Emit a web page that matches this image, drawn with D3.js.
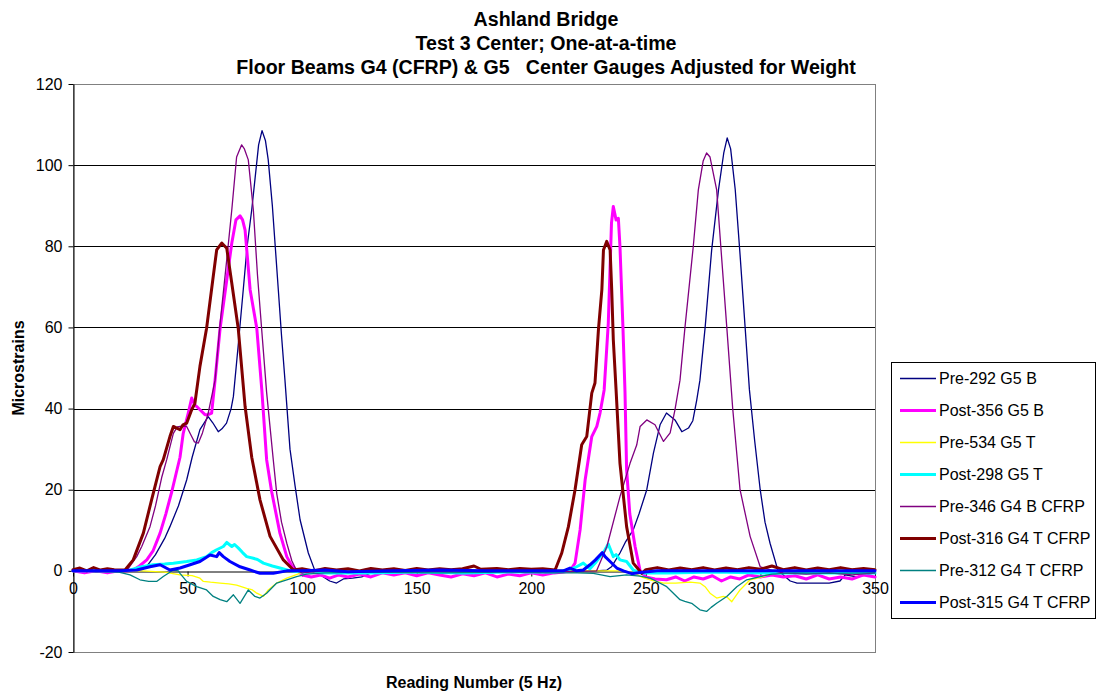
<!DOCTYPE html>
<html>
<head>
<meta charset="utf-8">
<script src="https://cdn.jsdelivr.net/npm/d3@7"></script>
<style>
  body { margin: 0; background: #fff; }
  svg text { font-family: Arial, "Liberation Sans", sans-serif; }
</style>
</head>
<body>
<div id="chart"></div>
<script>
// titles and labels
const titleLines = ["Ashland Bridge", "Test 3 Center; One-at-a-time",
    "Floor Beams G4 (CFRP) & G5   Center Gauges Adjusted for Weight"];
const xTicks = [0, 50, 100, 150, 200, 250, 300, 350];
const yTicks = [-20, 0, 20, 40, 60, 80, 100, 120];
const seriesNames = ["Pre-292 G5 B", "Post-356 G5 B", "Pre-534 G5 T", "Post-298 G5 T",
    "Pre-346 G4 B CFRP", "Post-316 G4 T CFRP", "Pre-312 G4 T CFRP", "Post-315 G4 T CFRP"];

// [reading, microstrain]
const pre292 = [[0,0],[5,0.3],[10,-0.2],[15,0],[20,0],[25,0],[30,0.3],[32,1],[36,4],[40,8],[42.3,10.9],[46,16],[49.6,22.4],[52,28],[55.4,34.8],[59,38],[61,36.5],[63.4,34.3],[65,35],[67,36.4],[69,40],[70,43],[72,55],[74.3,69.3],[76,80],[78,89],[79.5,97],[81,105],[82.5,108.5],[84,106],[85.2,101.3],[87,90],[89.6,69.3],[91,58],[92.5,47],[94.7,30],[96.9,21],[99.1,12.6],[102.7,4.4],[105.6,0],[108,-1],[112,-2.5],[115,-3],[118,-2],[122,-1.8],[126,-1.5],[130,-0.5],[135,0],[145,-0.3],[155,0],[165,-0.3],[175,0],[185,-0.2],[195,0],[205,-0.2],[215,0],[228,0],[233,0.2],[235,1],[238.7,4.4],[241,7],[244.5,10.1],[247,14],[250.4,20],[253.3,29],[256.2,36],[259,38.9],[262.7,37.2],[265.7,34.3],[268.6,35.2],[270.5,37],[272.2,42.1],[273.6,47],[275.9,60.2],[278.7,79],[281.7,93.9],[284,103],[285.5,106.7],[287,104],[289,94],[291.1,78],[293.3,60.2],[295.2,44.6],[297.5,32],[299.9,20],[302,12],[304.2,6.8],[307.7,0],[310,-1],[313,-2.5],[316,-3],[320,-3],[325,-3],[330,-3],[334.7,-2.5],[337,-1],[342,-1.5],[346,-1],[350,-0.5]];
const post356 = [[0,0],[5,-0.5],[10,0],[15,-0.5],[20,0],[24,0],[26.3,0.2],[29,1.2],[32.2,2.7],[35,5],[38,9.3],[40.5,14],[43.1,19.5],[45,24],[46.7,28],[48.1,33.9],[50.3,38.9],[51.8,42.6],[53,41],[54,40.5],[55.4,39.7],[57.6,38.5],[59,38.5],[60.5,38.9],[62,47],[64.2,59.8],[67.1,71.7],[69.3,80.8],[71.1,86.5],[72.9,87.5],[74,86.5],[75.1,84],[77.3,69.3],[80.2,59.8],[82.4,44.6],[84.5,27.4],[86.7,19.5],[90.3,9.3],[93.3,3.5],[95.5,1.2],[97.6,0.2],[100,-1],[104,-1.5],[108,-1],[112,-1.8],[116,-1],[120,-1.5],[125,-0.8],[130,-1.5],[135,-0.5],[140,-1],[145,-0.5],[150,-1.2],[155,-0.5],[160,-1],[165,-1.5],[170,-0.7],[175,-1.2],[180,-0.5],[185,-1.5],[190,-0.8],[195,-1.2],[200,-0.5],[205,-1],[210,-0.5],[214,-0.3],[216.9,0],[219.1,1.9],[221.3,10.1],[223.5,22.4],[226.4,33.1],[228.6,35.6],[230,38.9],[231.8,44.6],[233.6,61],[235,85.7],[235.8,89.8],[237,86.5],[238,86.9],[238.7,80],[240,60],[240.9,44],[241.6,25],[243,14],[245.3,6],[247.5,0],[250,-1.5],[254,-2],[259,-2.2],[263,-1.5],[267,-2.5],[271,-1.5],[275,-2],[279,-1.2],[283,-2.5],[287,-1.5],[291,-2],[295,-1],[300,-1.5],[305,-1],[310,-1.5],[315,-1.2],[320,-2],[325,-1],[330,-2],[335,-1.5],[340,-2],[345,-1],[350,-1.5]];
const pre534 = [[0,0],[20,0],[30,0],[40,-0.3],[46.7,-1],[52,-1.2],[55.4,-1.8],[56.9,-2.6],[60,-2.8],[64.2,-3],[68,-3.2],[71.4,-3.5],[75.8,-4.3],[78,-4.6],[80.2,-5.5],[83.1,-6.3],[85.2,-4.7],[88.9,-3],[93.3,-1.8],[99,-0.6],[103,0],[120,0],[150,0.2],[180,0],[210,0.2],[230,0],[240,0],[245,-0.5],[248,-1.5],[251.8,-2.2],[257.7,-3],[263,-3],[269.3,-2.8],[273.6,-3],[276,-4],[278,-5.5],[280.9,-6.7],[283.8,-6.3],[285.5,-6.5],[287.5,-7.6],[289.5,-6],[291.1,-4.7],[295.5,-2.2],[301.3,-1.4],[305,-0.5],[310,0],[330,0.2],[350,0.5]];
const post298 = [[0,0],[10,0],[20,0],[25,0.2],[30,1],[35,1.5],[40,1.7],[43.8,1.9],[49.6,2.3],[54,2.7],[58.3,3.5],[60.5,4.5],[62.7,5.2],[65.6,6],[67.1,7],[68.2,6.5],[69.3,6],[70.5,6.5],[72.2,5.6],[74,4.5],[75.8,3.5],[78.7,3.1],[80.5,2.8],[83.1,1.9],[87,1.2],[90.3,0.7],[95,0],[100,-0.3],[110,-0.5],[130,-0.5],[150,-0.3],[170,-0.5],[190,-0.3],[210,-0.3],[215,0],[219.8,1],[222.7,1.9],[225.6,0.5],[228,2],[230,3.5],[232,5],[233.6,6.6],[235.8,3.5],[237,4],[238.7,2.7],[241.6,2.3],[244.5,0.2],[248,-0.5],[260,-0.5],[280,-0.3],[300,-0.5],[320,-0.5],[350,-0.5]];
const pre346 = [[0,0],[10,0],[20,0],[23.4,0],[27.8,3.5],[30,6],[33.6,10.9],[36,16],[38.7,23],[40.9,27.4],[42.5,31],[43.8,33.9],[45.5,35.5],[47.4,35.7],[49.6,35.6],[51.8,33.1],[53,31.8],[54.7,31.5],[56.5,34],[59,38.9],[62,47],[64.2,61],[67.1,76.7],[69.3,89],[71.4,102],[73.6,105],[74.8,104],[76.5,101.3],[78.7,89],[80.5,73],[82.3,59.8],[84.5,44],[87.4,27.4],[88.9,19.1],[91,12],[93.3,6.8],[95.5,2.5],[97.6,0],[100,-0.5],[110,0],[130,-0.3],[150,0],[170,-0.3],[190,0],[210,-0.2],[228.5,0],[233,6],[238.7,18.3],[243.1,26.5],[246,31],[247.5,35.6],[250.4,37.2],[254,36],[257.7,31.9],[260.6,34],[262.7,39.7],[264.9,47],[267.1,60.2],[270.7,80],[272.9,93.9],[275,101],[276.5,103],[278,102],[280.9,93.9],[282.7,80],[285.3,60.2],[287.9,40],[291.1,20],[295.5,8.5],[299.9,1],[305.7,0],[310,-0.5],[320,-0.8],[330,-0.5],[340,-1],[350,-0.5]];
const post316 = [[0,0.3],[3,0.7],[6,0],[9,0.8],[12,0.2],[15,0.5],[18,0.3],[22.7,0.2],[26.3,2.7],[30.7,9.3],[34.3,17.5],[38,25.7],[39.4,27.4],[42.3,33.1],[43.8,35.6],[45.3,35.2],[46.7,34.8],[48,36],[49.6,36.4],[51.8,39.7],[53.2,41.3],[55.4,50.4],[58.3,59.8],[61,71.7],[62.7,79.1],[64.9,80.8],[67.1,79.5],[69.3,70.9],[72.1,59.8],[75.1,40.5],[78,28],[81.6,17.5],[86,8.5],[91.8,2.7],[96.2,0.2],[100,0.5],[105,0],[110,0.6],[115,0.2],[120,0.5],[125,0],[130,0.6],[135,0.2],[140,0.5],[145,0.1],[150,0.6],[155,0.2],[160,0.5],[165,0.3],[170,0.5],[175,1.2],[178,0.4],[185,0.6],[190,0.3],[195,0.6],[200,0.4],[205,0.5],[210.4,0.2],[213.3,4.4],[216.2,10.9],[219.1,20],[222,31.1],[224.2,33.1],[226.4,43.8],[227.8,46.3],[229.3,59.4],[230.8,69.3],[231.5,79.1],[232.9,81.2],[234.4,79.1],[235.1,69.3],[235.8,56.9],[237,44.6],[238.7,26.5],[241.6,10.9],[244.5,1.9],[248.2,-0.6],[250,0.3],[255,0.8],[260,0.2],[265,0.7],[270,0.3],[275,0.8],[280,0.2],[285,0.7],[290,0.3],[295,0.8],[300,0.4],[305,1.2],[310,0.3],[315,0.8],[320,0.2],[325,0.7],[330,0.3],[335,0.8],[340,0.3],[345,0.6],[350,0.3]];
const pre312 = [[0,0],[10,-0.2],[20,-0.3],[24.9,-1],[29.2,-2.2],[33,-2.6],[36.5,-2.6],[39.4,-1.4],[43.8,0.2],[46,0],[46.7,-0.6],[49.6,-2.6],[54,-3.9],[58.3,-4.7],[61.2,-6.3],[64.2,-7.1],[67.1,-7.6],[70,-5.9],[72.9,-8],[76.5,-4.7],[79.4,-6.3],[81.6,-6.7],[84.5,-5.5],[88.9,-3],[93.3,-2.2],[97.6,-1.4],[102,-0.8],[110,-0.5],[130,-0.3],[160,-0.5],[190,-0.3],[210,-0.5],[220,-0.5],[227.1,-0.6],[234.4,-1.4],[241.6,-1],[247.5,-1.3],[251.8,-1.8],[253.3,-2.2],[259.1,-3.9],[264.9,-7.1],[267,-7.5],[270,-8],[273.6,-9.6],[276.5,-10],[278.5,-9],[280.9,-8],[285.3,-6.3],[289.7,-3.9],[294,-2.2],[299.9,-1.4],[305,-0.8],[315,-0.5],[330,-0.6],[350,-0.5]];
const post315 = [[0,0],[10,0],[20.5,0],[27.8,0.2],[33.6,1],[38,1.5],[42.3,0.2],[46.7,0.7],[51.1,1.5],[55.4,2.3],[59.8,3.9],[62.7,3.5],[63.8,4.5],[65.6,3.5],[68.5,2.3],[72.9,1],[77.3,0.2],[81.6,-0.6],[87.4,-0.6],[93.3,0],[100,0],[110,0.2],[120,-0.2],[140,0],[160,0.2],[180,0],[200,0],[214,0],[216.9,0.7],[219.8,0],[222.7,0.2],[225.6,1.5],[228,2.7],[230,3.9],[231,4.5],[232.2,3.5],[234.4,2.3],[237.3,0.7],[240.2,0],[243.8,-0.7],[247.5,-0.4],[255,0],[270,0],[290,0],[310,0],[330,0],[350,0]];

const seriesValues = [pre292, post356, pre534, post298, pre346, post316, pre312, post315];
const seriesColors = ["#000080", "#FF00FF", "#FFFF00", "#00FFFF", "#800080", "#800000", "#008080", "#0000FF"];
const seriesWidths = [1.3, 3, 1.3, 3, 1.3, 3, 1.3, 3];

const width = 1097, height = 693;
const margin = {top: 84, right: 222, bottom: 41, left: 73};

const svg = d3.select("#chart").append("svg")
    .attr("width", width)
    .attr("height", height);

const x = d3.scaleLinear().domain([0, 350]).range([margin.left, width - margin.right]);
const y = d3.scaleLinear().domain([-20, 120]).range([height - margin.bottom, margin.top]);

// grid lines
svg.append("g")
    .selectAll("line")
    .data(yTicks.filter(d => d > -20 && d < 120 && d !== 0))
    .enter()
    .append("line")
    .attr("x1", x(0)).attr("x2", x(350))
    .attr("y1", d => Math.round(y(d)) + 0.5).attr("y2", d => Math.round(y(d)) + 0.5)
    .attr("stroke", "#000")
    .attr("stroke-width", 1);

// plot border
svg.append("rect")
    .attr("x", x(0) + 0.5).attr("y", Math.round(y(120)) + 0.5)
    .attr("width", x(350) - x(0)).attr("height", Math.round(y(-20)) - Math.round(y(120)))
    .attr("fill", "none")
    .attr("stroke", "#808080")
    .attr("stroke-width", 1);

// y axis
const yAxis = svg.append("g")
    .attr("transform", `translate(${x(0) + 0.5},0)`)
    .call(d3.axisLeft(y).tickValues(yTicks).tickFormat(d => String(d))
        .tickSize(5).tickSizeOuter(0).tickPadding(6));
yAxis.select(".domain").attr("stroke", "#000");
yAxis.selectAll(".tick line").attr("stroke", "#000");
yAxis.selectAll(".tick text").style("font-size", "16px").attr("fill", "#000");

// x axis crossing at zero
const xAxis = svg.append("g")
    .attr("transform", `translate(0,${Math.round(y(0)) + 0.5})`)
    .call(d3.axisBottom(x).tickValues(xTicks).tickFormat(d => String(d))
        .tickSize(5).tickSizeOuter(0).tickPadding(6));
xAxis.select(".domain").attr("stroke", "#000");
xAxis.selectAll(".tick line").attr("stroke", "#000");
xAxis.selectAll(".tick text").style("font-size", "16px").attr("fill", "#000");

// lines
const line = d3.line()
    .x(d => x(d[0]))
    .y(d => y(d[1]));

svg.append("g")
    .selectAll("path")
    .data(seriesValues)
    .enter()
    .append("path")
    .attr("d", line)
    .attr("fill", "none")
    .attr("stroke", (d, i) => seriesColors[i])
    .attr("stroke-width", (d, i) => seriesWidths[i])
    .attr("stroke-linejoin", "round")
    .attr("stroke-linecap", "round");

// titles
svg.append("g")
    .selectAll("text")
    .data(titleLines)
    .enter()
    .append("text")
    .attr("x", 546)
    .attr("y", (d, i) => 26 + i * 24)
    .attr("text-anchor", "middle")
    .style("font-size", "19.6px")
    .style("font-weight", "bold")
    .style("white-space", "pre")
    .text(d => d);

svg.append("text")
    .attr("x", (x(0) + x(350)) / 2)
    .attr("y", 688)
    .attr("text-anchor", "middle")
    .style("font-size", "16px")
    .style("font-weight", "bold")
    .text("Reading Number (5 Hz)");

svg.append("text")
    .attr("transform", `translate(24,${(y(-20) + y(120)) / 2}) rotate(-90)`)
    .attr("text-anchor", "middle")
    .style("font-size", "16px")
    .style("font-weight", "bold")
    .text("Microstrains");

// legend
const legend = svg.append("g");
legend.append("rect")
    .attr("x", 891.5).attr("y", 362.5)
    .attr("width", 204).attr("height", 256)
    .attr("fill", "#fff")
    .attr("stroke", "#000");

const item = legend.selectAll(".item")
    .data(seriesNames)
    .enter()
    .append("g")
    .attr("transform", (d, i) => `translate(0,${378.5 + i * 32})`);

item.append("line")
    .attr("x1", 900).attr("x2", 936)
    .attr("stroke", (d, i) => seriesColors[i])
    .attr("stroke-width", (d, i) => seriesWidths[i]);

item.append("text")
    .attr("x", 939)
    .attr("dy", "0.35em")
    .style("font-size", "16px")
    .text(d => d);
</script>
</body>
</html>
